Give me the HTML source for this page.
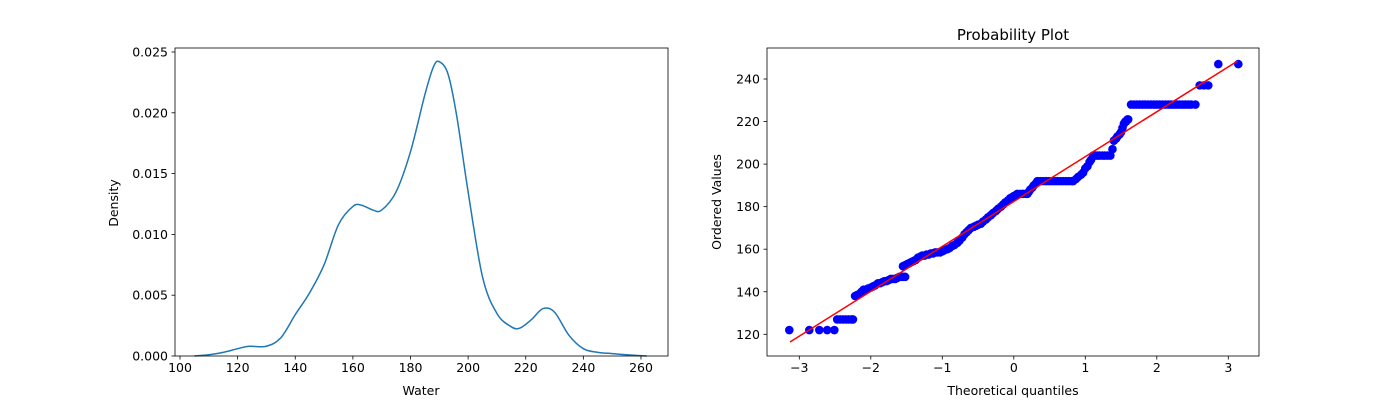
<!DOCTYPE html>
<html><head><meta charset="utf-8"><style>
body{margin:0;background:#fff;font-family:"Liberation Sans","DejaVu Sans",sans-serif}
svg text{font-family:"DejaVu Sans","Liberation Sans",sans-serif;fill:#000}
</style></head><body>
<svg id="c" width="1400" height="400" xmlns="http://www.w3.org/2000/svg"></svg>
<script>
const kdeX=[105,110,115,120,124,130,135,140,145,150,155,160,163,167,170,175,180,185,188,190,193,196,200,205,210,215,218,222,226,230,235,240,245,250,255,262];
const kdeY=[0,0.0001,0.0003,0.0006,0.0008,0.0008,0.0015,0.0034,0.0052,0.0075,0.0108,0.0123,0.0124,0.012,0.012,0.0135,0.0168,0.0215,0.0238,0.0242,0.0232,0.0198,0.0135,0.0065,0.0035,0.0024,0.0023,0.003,0.0039,0.0036,0.0017,0.0006,0.0003,0.0002,0.0001,0];
const leftXTicks=[100,120,140,160,180,200,220,240,260];
const leftYTicks=[0,0.005,0.010,0.015,0.020,0.025];
const leftYLabels=["0.000","0.005","0.010","0.015","0.020","0.025"];
const qqX=[-3.14,-2.86,-2.72,-2.61,-2.51,-2.47,-2.43,-2.39,-2.35,-2.31,-2.27,-2.25,
-2.22,-2.19,-2.16,-2.13,-2.1,-2.07,-2.04,-2.0,-1.97,-1.94,-1.9,-1.87,-1.84,-1.81,-1.78,-1.75,-1.72,-1.69,-1.66,-1.63,-1.6,-1.57,-1.54,-1.52,
-1.55,-1.52,-1.49,-1.46,-1.43,-1.4,-1.37,-1.34,-1.31,-1.28,-1.25,-1.22,-1.19,-1.16,-1.13,-1.1,-1.07,-1.03,-1.0,-0.97,-0.93,-0.9,-0.86,-0.83,-0.79,-0.76,-0.72,-0.69,-0.66,-0.63,-0.6,-0.56,-0.53,-0.5,-0.46,-0.43,-0.39,-0.36,-0.32,-0.29,-0.25,-0.22,-0.18,-0.15,-0.12,-0.08,-0.05,-0.02,0.0,0.03,0.05,0.09,0.12,0.14,0.17,0.19,0.21,0.23,0.26,0.28,0.31,0.33,
0.37,0.41,0.45,0.49,0.53,0.57,0.61,0.65,0.69,0.73,0.77,0.81,0.83,0.87,0.9,0.94,0.97,1.0,1.03,1.06,1.08,1.11,1.14,1.17,1.2,1.24,1.27,1.31,1.35,1.38,1.4,1.43,1.45,1.48,1.5,1.52,1.54,1.56,1.57,1.59,1.6,
1.64,1.68,1.72,1.76,1.8,1.84,1.88,1.92,1.96,2.0,2.04,2.08,2.12,2.16,2.2,2.24,2.28,2.32,2.36,2.4,2.44,2.48,2.54,2.6,2.66,2.72,2.86,3.14];
const qqY=[122,122,122,122,122,127,127,127,127,127,127,127,
138,138.5,139,140,141,141,141.5,142,142.5,143,144,144,144.5,145,145,145.5,146,146,146,146.5,147,147,147,147,
152,152.5,153,153.5,154,154.5,155,156,156.5,157,157,157.5,157.5,158,158,158.5,158.5,158.5,159,159.5,160,160.5,161.5,162,163,164,165.5,167,168,169,170,170.5,171,171.5,172,173,174,175,176,177,178,179,180,181,182,183,184,184.5,185,185.5,186,186,186,186,186,186,187,188,189,190,191,192,
192,192,192,192,192,192,192,192,192,192,192,192,192,193,194,195,196,198,199,201,202,204,204,204,204,204,204,204,204,207,211,212,213,214,215,217,219,220,220,221,221,
228,228,228,228,228,228,228,228,228,228,228,228,228,228,228,228,228,228,228,228,228,228,228,237,237,237,247,247];
const rightXTicks=[-3,-2,-1,0,1,2,3];
const rightYTicks=[120,140,160,180,200,220,240];
const fitSlope=21.1, fitIntercept=182.4;

const NS="http://www.w3.org/2000/svg", svg=document.getElementById('c');
function el(t,a,p){const e=document.createElementNS(NS,t);for(const k in a)e.setAttribute(k,a[k]);(p||svg).appendChild(e);return e;}
function txt(s,a){const e=el('text',a);e.textContent=s;return e;}
const FS=12.5;
// left axes
const L={x0:175,x1:668,y0:48,y1:356};
const lx=v=>180+(v-100)*(641-180)/160, ly=d=>356-d*(356-52)/0.025;
const lg=el('g',{});


let pts=kdeX.map((v,i)=>[lx(v),ly(kdeY[i])]);
let d='M'+pts[0][0]+','+pts[0][1];
for(let i=0;i<pts.length-1;i++){const p0=pts[i-1]||pts[i],p1=pts[i],p2=pts[i+1],p3=pts[i+2]||p2;
d+=`C${p1[0]+(p2[0]-p0[0])/6},${p1[1]+(p2[1]-p0[1])/6} ${p2[0]-(p3[0]-p1[0])/6},${p2[1]-(p3[1]-p1[1])/6} ${p2[0]},${p2[1]}`;}
const kp=el('path',{d:d,fill:'none',stroke:'#1f77b4','stroke-width':1.5},lg);


el('rect',{x:L.x0,y:L.y0,width:L.x1-L.x0,height:L.y1-L.y0,fill:'none',stroke:'#000','stroke-width':0.8},lg);
leftXTicks.forEach(v=>{const x=lx(v);el('line',{x1:x,x2:x,y1:L.y1,y2:L.y1+3.5,stroke:'#000','stroke-width':0.8},lg);
const t=txt(v,{x:x,y:L.y1+16,'text-anchor':'middle','font-size':FS});});
leftYTicks.forEach((v,i)=>{const y=ly(v);el('line',{x1:L.x0,x2:L.x0-3.5,y1:y,y2:y,stroke:'#000','stroke-width':0.8},lg);
const t=txt(leftYLabels[i],{x:L.x0-7,y:y+4.5,'text-anchor':'end','font-size':FS});});
let t=txt('Water',{x:421,y:395,'text-anchor':'middle','font-size':FS});
t=txt('Density',{x:118,y:203,'text-anchor':'middle','font-size':FS,transform:'rotate(-90 118 203)'});

// right axes
const R={x0:767,x1:1259,y0:48,y1:356};
const rx=q=>1013.8+q*(1228.3-799.3)/6, ry=v=>334.3-(v-120)*(334.3-79)/120;
const rg=el('g',{});


qqX.forEach((q,i)=>{const c=el('circle',{cx:rx(q),cy:ry(qqY[i]),r:4.3,fill:'#0000ff'},rg);

});
const fl=el('line',{x1:rx(-3.13),y1:ry(fitIntercept+fitSlope*-3.13),x2:rx(3.13),y2:ry(fitIntercept+fitSlope*3.13),stroke:'#ff0000','stroke-width':1.5},rg);


el('rect',{x:R.x0,y:R.y0,width:R.x1-R.x0,height:R.y1-R.y0,fill:'none',stroke:'#000','stroke-width':0.8},rg);
rightXTicks.forEach(v=>{const x=rx(v);el('line',{x1:x,x2:x,y1:R.y1,y2:R.y1+3.5,stroke:'#000','stroke-width':0.8},rg);
const t=txt(v<0?'\u2212'+(-v):v,{x:x,y:R.y1+16,'text-anchor':'middle','font-size':FS});});
rightYTicks.forEach(v=>{const y=ry(v);el('line',{x1:R.x0,x2:R.x0-3.5,y1:y,y2:y,stroke:'#000','stroke-width':0.8},rg);
const t=txt(v,{x:R.x0-7,y:y+4.5,'text-anchor':'end','font-size':FS});});
t=txt('Theoretical quantiles',{x:1013,y:395,'text-anchor':'middle','font-size':FS});
t=txt('Ordered Values',{x:721,y:202,'text-anchor':'middle','font-size':FS,transform:'rotate(-90 721 202)'});
t=txt('Probability Plot',{x:1013,y:40,'text-anchor':'middle','font-size':15});
</script>
</body></html>
